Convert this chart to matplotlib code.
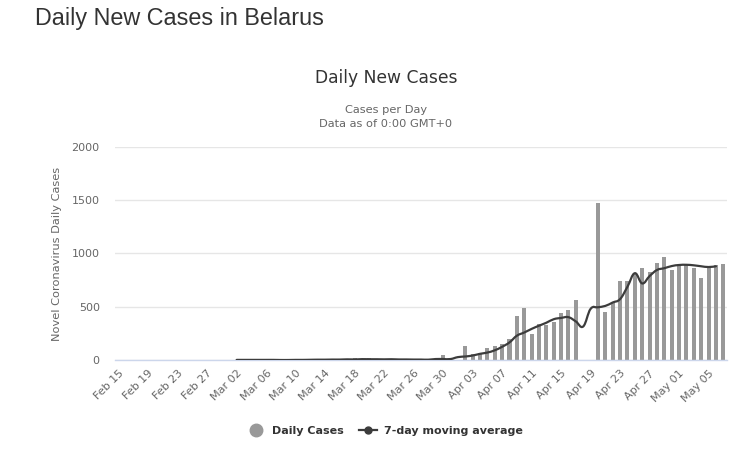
import numpy as np
import matplotlib
matplotlib.use("Agg")
import matplotlib.pyplot as plt
from matplotlib.path import Path
from matplotlib.patches import PathPatch
from matplotlib.lines import Line2D
import datetime as dt

# ---- data ----
start = dt.date(2020, 2, 15)
n_days = 83
dates = [start + dt.timedelta(days=i) for i in range(n_days)]
date_labels = [d.strftime("%b %d") for d in dates]

# daily cases from Mar 02 to May 07 (before Mar 02: no data)
daily_start = "Mar 02"
daily_cases = [
    0, 5, 0, 0, 0, 0, 0, 0, 0, 3, 3, 6, 6, 0, 9, 0, 15, 0, 18, 0,   # Mar 02 - Mar 21
    7, 5, 5, 0, 0, 8, 0, 0, 47, 0,                                    # Mar 22 - Mar 31
    0, 131, 53, 63, 109, 131, 150, 194, 413, 488,                     # Apr 01 - Apr 10
    240, 340, 333, 360, 443, 470, 565, 0, 0, 1475,                    # Apr 11 - Apr 20
    452, 540, 738, 745, 819, 866, 822, 915, 968, 842,                 # Apr 21 - Apr 30
    886, 903, 868, 774, 860, 892, 905,                                # May 01 - May 07
]

# 7-day moving average from Mar 02 to May 06
ma_start = "Mar 02"
moving_avg = [
    1, 1, 1, 1, 1, 1, 0, 0, 1, 1, 2, 3, 3, 4, 4, 6, 5, 8, 7, 7,       # Mar 02 - Mar 21
    6, 7, 5, 5, 4, 4, 3, 9, 9, 9,                                     # Mar 22 - Mar 31
    27, 33, 42, 58, 70, 91, 124, 165, 228, 258,                       # Apr 01 - Apr 10
    292, 322, 350, 383, 395, 402, 362, 315, 480, 495,                 # Apr 11 - Apr 20
    508, 540, 572, 688, 815, 719, 788, 845, 862, 882,                 # Apr 21 - Apr 30
    892, 894, 889, 880, 873, 880,                                     # May 01 - May 06
]

y_ticks = [0, 500, 1000, 1500, 2000]

# ---- figure ----
W, H = 756, 466
fig = plt.figure(figsize=(W / 100, H / 100), dpi=100)
ax = fig.add_axes([115 / W, 1 - 360 / H, (727 - 115) / W, (360 - 147) / H])

x_all = np.arange(n_days)
i0 = date_labels.index(daily_start)
xd = x_all[i0:i0 + len(daily_cases)]
ax.bar(xd, daily_cases, width=0.55, color="#999999", zorder=2)

j0 = date_labels.index(ma_start)
xm = x_all[j0:j0 + len(moving_avg)].astype(float)
ym = np.array(moving_avg, dtype=float)

# smooth spline through points (cubic Bezier, Catmull-Rom style)
verts = [(xm[0], ym[0])]
codes = [Path.MOVETO]
sm = 1.5
for k in range(len(xm) - 1):
    p0 = (xm[max(k - 1, 0)], ym[max(k - 1, 0)])
    p1 = (xm[k], ym[k])
    p2 = (xm[k + 1], ym[k + 1])
    p3 = (xm[min(k + 2, len(xm) - 1)], ym[min(k + 2, len(xm) - 1)])
    c1 = (p1[0] + (p2[0] - p0[0]) / (2 * (sm + 1)), p1[1] + (p2[1] - p0[1]) / (2 * (sm + 1)))
    c2 = (p2[0] - (p3[0] - p1[0]) / (2 * (sm + 1)), p2[1] - (p3[1] - p1[1]) / (2 * (sm + 1)))
    verts += [c1, c2, p2]
    codes += [Path.CURVE4, Path.CURVE4, Path.CURVE4]
ax.add_patch(PathPatch(Path(verts, codes), facecolor="none", edgecolor="#3c3c3c",
                       lw=1.6, zorder=3, capstyle="round", joinstyle="round"))

ax.set_xlim(-0.5, n_days - 0.5)
ax.set_ylim(0, 2000)
ax.set_yticks(y_ticks)
ax.set_yticklabels([str(v) for v in y_ticks])
ax.set_xticks(x_all[::4])
ax.set_xticklabels(date_labels[::4], rotation=45, ha="right", va="top",
                   rotation_mode="anchor")
for lab in ax.get_xticklabels():
    lab.set_fontsize(8)
    lab.set_color("#666666")
for lab in ax.get_yticklabels():
    lab.set_fontsize(8)
    lab.set_color("#666666")
ax.tick_params(axis="both", length=0)
ax.tick_params(axis="y", pad=11)
ax.tick_params(axis="x", pad=6)
ax.grid(axis="y", color="#e6e6e6", lw=1, zorder=0)
ax.set_axisbelow(True)
for s in ["top", "right", "left"]:
    ax.spines[s].set_visible(False)
ax.spines["bottom"].set_color("#ccd6eb")
ax.spines["bottom"].set_linewidth(1)
ax.set_ylabel("Novel Coronavirus Daily Cases", fontsize=8.2, color="#666666", labelpad=7)

# titles
fig.text(35 / W, 1 - 18 / H, "Daily New Cases in Belarus", fontsize=16.8,
         family="Liberation Sans", color="#333333", ha="left", va="center")
fig.text(386 / W, 1 - 78 / H, "Daily New Cases", fontsize=12.3, color="#333333",
         ha="center", va="center")
fig.text(386 / W, 1 - 110 / H, "Cases per Day", fontsize=8.2, color="#666666",
         ha="center", va="center")
fig.text(386 / W, 1 - 124 / H, "Data as of 0:00 GMT+0", fontsize=8.2, color="#666666",
         ha="center", va="center")

# legend
handles = [
    Line2D([], [], ls="none", marker="o", ms=9, color="#999999"),
    Line2D([], [], ls="-", lw=1.6, marker="o", ms=5, color="#3c3c3c"),
]
fig.legend(handles, ["Daily Cases", "7-day moving average"], loc="center",
           bbox_to_anchor=(385 / W, 1 - 431 / H), ncol=2, frameon=False,
           prop={"weight": "bold", "size": 8}, handlelength=1.6,
           handletextpad=0.6, columnspacing=1.4, labelcolor="#333333")

fig.savefig("out.png", dpi=100)
